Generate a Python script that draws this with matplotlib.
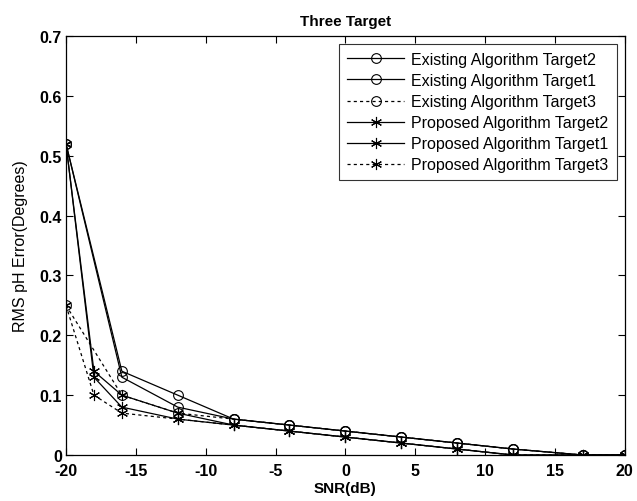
import matplotlib
matplotlib.use('Agg')
import matplotlib.pyplot as plt

# data
snr_existing = [-20, -16, -12, -8, -4, 0, 4, 8, 12, 17, 20]
existing_t2 = [0.52, 0.14, 0.10, 0.06, 0.05, 0.04, 0.03, 0.02, 0.01, 0.0, 0.0]
existing_t1 = [0.52, 0.13, 0.08, 0.06, 0.05, 0.04, 0.03, 0.02, 0.01, 0.0, 0.0]
existing_t3 = [0.25, 0.10, 0.07, 0.06, 0.05, 0.04, 0.03, 0.02, 0.01, 0.0, 0.0]

snr_proposed = [-20, -18, -16, -12, -8, -4, 0, 4, 8, 12, 17, 20]
proposed_t2 = [0.52, 0.14, 0.10, 0.07, 0.05, 0.04, 0.03, 0.02, 0.01, 0.0, 0.0, 0.0]
proposed_t1 = [0.52, 0.13, 0.08, 0.06, 0.05, 0.04, 0.03, 0.02, 0.01, 0.0, 0.0, 0.0]
proposed_t3 = [0.25, 0.10, 0.07, 0.06, 0.05, 0.04, 0.03, 0.02, 0.01, 0.0, 0.0, 0.0]

labels = ['Existing Algorithm Target2', 'Existing Algorithm Target1',
          'Existing Algorithm Target3', 'Proposed Algorithm Target2',
          'Proposed Algorithm Target1', 'Proposed Algorithm Target3']

x_ticks = [-20, -15, -10, -5, 0, 5, 10, 15, 20]
y_ticks = [0, 0.1, 0.2, 0.3, 0.4, 0.5, 0.6, 0.7]
y_ticklabels = ['0', '0.1', '0.2', '0.3', '0.4', '0.5', '0.6', '0.7']

plt.rcParams['font.family'] = ['Liberation Sans', 'DejaVu Sans']
plt.rcParams['axes.unicode_minus'] = False

fig = plt.figure(figsize=(6.37, 5.02), dpi=100)
ax = fig.add_axes([0.1036, 0.0916, 0.8771, 0.8347])

asterisk = (6, 2, 0)
circ = dict(marker='o', markersize=7, markerfacecolor='none', markeredgecolor='k', markeredgewidth=0.8)
star = dict(marker=asterisk, markersize=8, markeredgecolor='k', markeredgewidth=0.8)

ax.plot(snr_existing, existing_t2, '-', color='k', lw=0.9, label=labels[0], **circ)
ax.plot(snr_existing, existing_t1, '-', color='k', lw=0.9, label=labels[1], **circ)
ax.plot(snr_existing, existing_t3, '--', color='k', lw=0.9, dashes=(2.5, 2.5), label=labels[2], **circ)
ax.plot(snr_proposed, proposed_t2, '-', color='k', lw=0.9, label=labels[3], **star)
ax.plot(snr_proposed, proposed_t1, '-', color='k', lw=0.9, label=labels[4], **star)
ax.plot(snr_proposed, proposed_t3, '--', color='k', lw=0.9, dashes=(2.5, 2.5), label=labels[5], **star)

ax.set_xlim(-20, 20)
ax.set_ylim(0, 0.7)
ax.set_xticks(x_ticks)
ax.set_yticks(y_ticks)
ax.set_yticklabels(y_ticklabels)
ax.tick_params(direction='in', top=True, right=True, length=5, width=0.8,
               labelsize=11.5, pad=3)
ax.tick_params(axis='x', pad=6)
for lab in ax.get_xticklabels() + ax.get_yticklabels():
    lab.set_fontweight('bold')
for sp in ax.spines.values():
    sp.set_linewidth(0.9)

ax.set_title('Three Target', fontsize=11, fontweight='bold', pad=8)
ax.set_xlabel('SNR(dB)', fontsize=11, fontweight='bold', labelpad=2)
ax.set_ylabel('RMS pH Error(Degrees)', fontsize=11.5, labelpad=8)

leg = ax.legend(loc='upper right', fontsize=11.5, frameon=True, fancybox=False,
                edgecolor='k', handlelength=3.6, labelspacing=0.38,
                borderaxespad=0.5, handletextpad=0.45, borderpad=0.5)
leg.get_frame().set_linewidth(0.8)

fig.savefig('out.png', dpi=100)
